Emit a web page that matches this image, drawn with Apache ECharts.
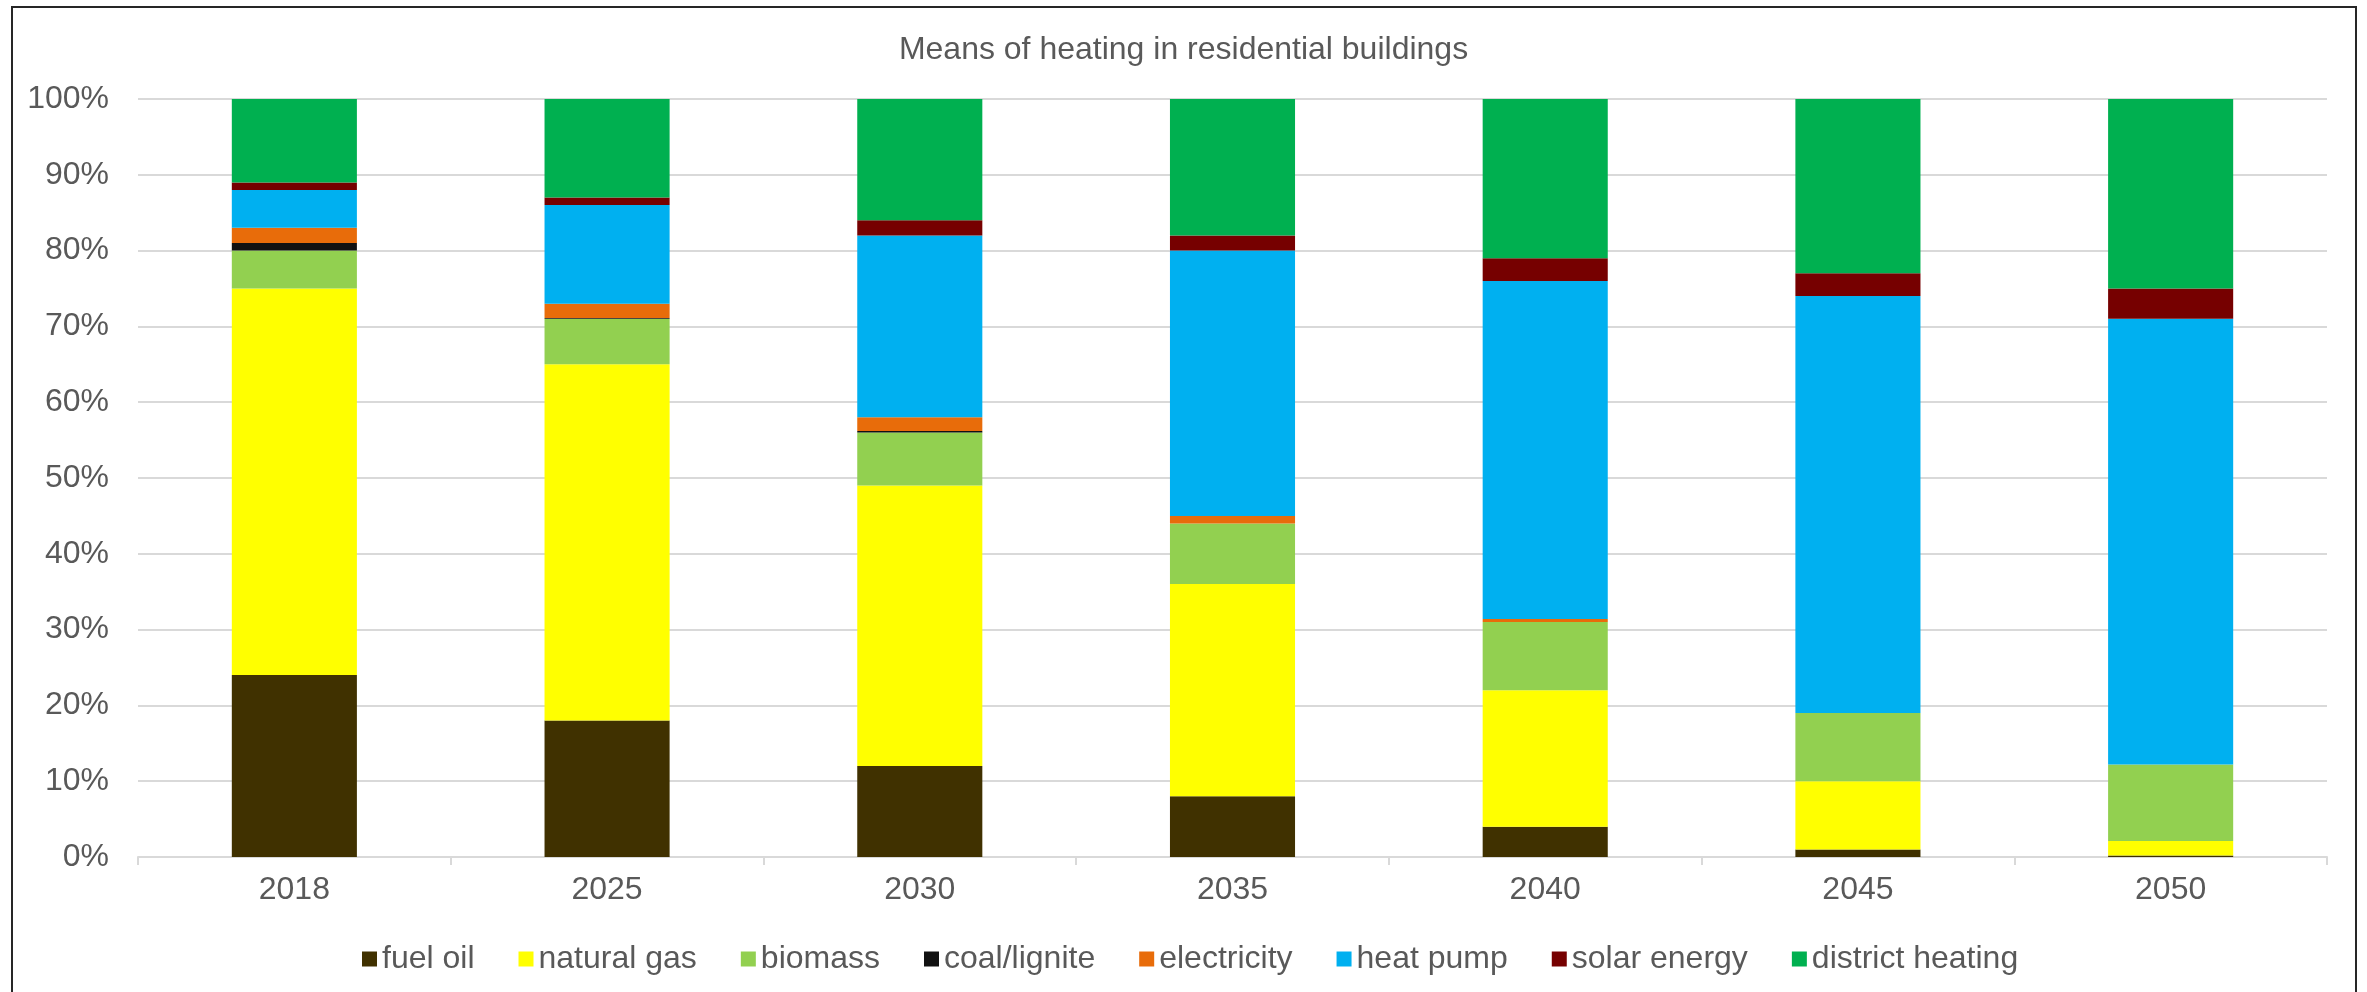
<!DOCTYPE html>
<html style="height: 100%;width:100%">
    <head>
        <meta charset="utf-8">
    </head>
<body style="height: 100%; width:100%; margin:0">
        <div id="chart-panel" style="height: 992px;width: 2367px"></div>
        <script type="text/javascript" src="https://fastly.jsdelivr.net/npm/echarts@6/dist/echarts.min.js"></script>
        <script type="text/javascript">
// categories (years)
var years = ['2018', '2025', '2030', '2035', '2040', '2045', '2050'];

// share of each heating means in %
var fuelOil      = [24, 18, 12, 8, 4, 1, 0.2];
var naturalGas   = [51, 47, 37, 28, 18, 9, 1.9];
var biomass      = [5, 6, 7, 8, 9, 9, 10.1];
var coalLignite  = [1, 0.1, 0.2, 0, 0, 0, 0];
var electricity  = [2, 1.9, 1.8, 1, 0.4, 0, 0];
var heatPump     = [5, 13, 24, 35, 44.6, 55, 58.8];
var solarEnergy  = [1, 1, 2, 2, 3, 3, 4];
var districtHeat = [11, 13, 16, 18, 21, 23, 25];

var yTicks = [0, 10, 20, 30, 40, 50, 60, 70, 80, 90, 100];

var names  = ['fuel oil', 'natural gas', 'biomass', 'coal/lignite', 'electricity', 'heat pump', 'solar energy', 'district heating'];
var values = [fuelOil, naturalGas, biomass, coalLignite, electricity, heatPump, solarEnergy, districtHeat];
var colors = ['#403100', '#FFFF00', '#92D050', '#111111', '#E86C0A', '#00B0F0', '#760000', '#00B050'];

var dom = document.getElementById("chart-panel");
var myChart = echarts.init(dom);

var textColor = '#595959';
var fontFam = '"Liberation Sans", Arial, sans-serif';

var series = [];
for (var i = 0; i < names.length; i++) {
    series.push({
        name: names[i],
        type: 'bar',
        stack: 'total',
        barCategoryGap: '60%',
        itemStyle: { color: colors[i] },
        data: values[i]
    });
}

var option = {
    backgroundColor: '#ffffff',
    animation: false,
    textStyle: { fontFamily: fontFam },
    title: {
        text: 'Means of heating in residential buildings',
        left: 'center',
        top: 29,
        textStyle: {
            color: textColor,
            fontSize: 32,
            fontWeight: 'normal',
            fontFamily: fontFam
        }
    },
    legend: {
        data: names,
        left: 357,
        top: 938,
        itemWidth: 15,
        itemHeight: 15,
        itemGap: 44,
        icon: 'rect',
        textStyle: { color: textColor, fontSize: 32, fontFamily: fontFam }
    },
    grid: {
        left: 138,
        right: 40,
        top: 99,
        bottom: 135,
        containLabel: false
    },
    xAxis: {
        type: 'category',
        data: years,
        axisLine: { lineStyle: { color: '#D9D9D9', width: 2 } },
        axisTick: { show: true, length: 8, lineStyle: { color: '#D9D9D9', width: 2 } },
        axisLabel: { color: textColor, fontSize: 32, margin: 17, fontFamily: fontFam }
    },
    yAxis: {
        type: 'value',
        min: yTicks[0],
        max: yTicks[yTicks.length - 1],
        interval: 10,
        axisLine: { show: false },
        axisTick: { show: false },
        splitLine: { lineStyle: { color: '#D9D9D9', width: 2 } },
        axisLabel: {
            color: textColor,
            fontSize: 32,
            margin: 29,
            fontFamily: fontFam,
            formatter: '{value}%'
        }
    },
    graphic: [{
        type: 'rect',
        shape: { x: 12, y: 7, width: 2344, height: 1000 },
        style: { fill: 'none', stroke: '#262626', lineWidth: 2 },
        silent: true
    }],
    series: series
};

myChart.setOption(option);
 </script>
</body>
</html>
